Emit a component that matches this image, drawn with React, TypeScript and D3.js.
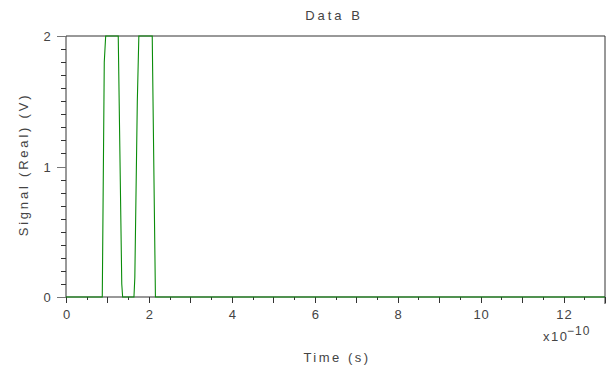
import * as d3 from 'd3'

// time in units of 1e-10 s, signal in V
const timeE10 = [0, 0.875, 0.923, 0.957, 1.26, 1.345, 1.366, 1.639, 1.66, 1.72, 1.757, 2.08, 2.09, 2.157, 13]
const signal = [0, 0, 1.8, 2, 2, 0.1, 0, 0, 0.15, 1.5, 2, 2, 1.73, 0, 0]

const xLabels = [0, 2, 4, 6, 8, 10, 12]
const yLabels = [0, 1, 2]

export default function App() {
  const width = 606
  const height = 371
  const marginTop = 36
  const marginRight = 1
  const marginBottom = 74
  const marginLeft = 66

  const x = d3.scaleLinear([0, 13], [marginLeft, width - marginRight])
  const y = d3.scaleLinear([0, 2], [height - marginBottom, marginTop])

  const line = d3.line<number>()
    .x((_, i) => x(timeE10[i]))
    .y(d => y(d))

  const xTicks = d3.range(0, 13.001, 0.5)
  const yTicks = d3.range(0, 2.001, 0.1)
  const font = "'Liberation Sans', Arial, sans-serif"
  const ink = '#333'
  const textInk = '#444'

  return (
    <svg width={width} height={height} style={{position: 'absolute', left: 0, top: 0}}
         fontFamily={font} fill={textInk}>
      <rect width={width} height={height} fill="#fff"/>
      <text x={334} y={20} textAnchor="middle" fontSize={13} letterSpacing={3}>Data B</text>

      {/* frame */}
      <line x1={x(0)} x2={x(13)} y1={y(2)} y2={y(2)} stroke={ink}/>
      <line x1={x(13)} x2={x(13)} y1={y(2)} y2={y(0) + 7} stroke={ink}/>
      <line x1={x(0)} x2={x(0)} y1={y(2)} y2={y(0)} stroke={ink}/>
      <line x1={x(0)} x2={x(13)} y1={y(0)} y2={y(0)} stroke={ink}/>

      {/* y ticks */}
      {yTicks.map(t => {
        const major = Math.abs(t - Math.round(t)) < 1e-6
        return <line key={t} x1={x(0) - (major ? 9 : 5)} x2={x(0)} y1={Math.round(y(t)) + 0.5}
                     y2={Math.round(y(t)) + 0.5} stroke={major ? '#777' : ink}/>
      })}
      {yLabels.map(t => (
        <text key={t} x={47} y={y(t) + 5} textAnchor="middle" fontSize={13}>{t}</text>
      ))}
      <text transform={`translate(28,${y(1) - 2}) rotate(-90)`} textAnchor="middle" fontSize={13}
            letterSpacing={2.8}>Signal (Real) (V)</text>

      {/* x ticks */}
      {xTicks.map(t => {
        const major = Math.abs(t - Math.round(t)) < 1e-6
        return <line key={t} x1={Math.round(x(t)) + 0.5} x2={Math.round(x(t)) + 0.5} y1={y(0)}
                     y2={y(0) + (major ? 6 : 3)} stroke={ink}/>
      })}
      {xLabels.map(t => (
        <text key={t} x={x(t) + 1} y={319} textAnchor="middle" fontSize={13} letterSpacing={1}>{t}</text>
      ))}
      <text x={543} y={341} fontSize={13} letterSpacing={1.5}>x10</text>
      <text x={567} y={335} fontSize={12} letterSpacing={1}>−10</text>
      <text x={337} y={362} textAnchor="middle" fontSize={13} letterSpacing={2.5}>Time (s)</text>

      <defs>
        <clipPath id="plot">
          <rect x={x(0)} y={y(2) - 1} width={x(13) - x(0)} height={y(0) - y(2) + 2}/>
        </clipPath>
      </defs>
      <path d={line(signal) ?? ''} fill="none" stroke="#0a8c0a" strokeWidth={1.1} clipPath="url(#plot)"/>
    </svg>
  )
}
